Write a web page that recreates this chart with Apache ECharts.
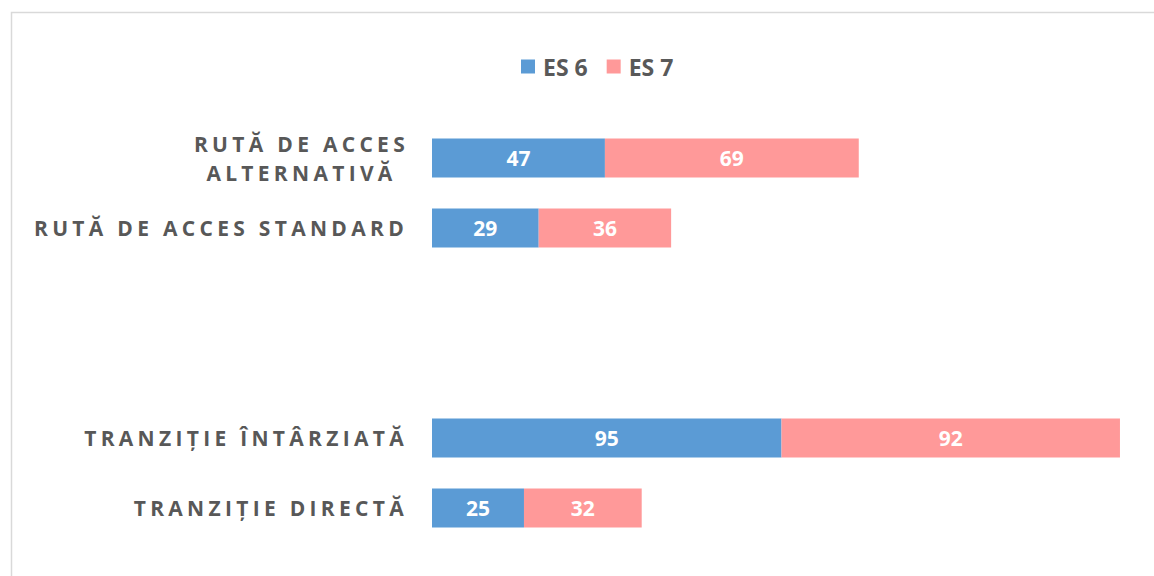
<!DOCTYPE html>
<html>
<head>
<meta charset="utf-8">
<script src="https://cdn.jsdelivr.net/npm/echarts@6/dist/echarts.min.js"></script>
<style>
  html, body { margin:0; padding:0; background:#fff; }
  #chart { width:1154px; height:576px; }
  /* axis category labels are letter-spaced in the original */
  #chart text[fill="#585858"] { letter-spacing:4.3px; }
</style>
</head>
<body>
<div id="chart"></div>
<script>
const categories = ["RUTĂ DE ACCES ALTERNATIVĂ", "RUTĂ DE ACCES STANDARD", "", "", "TRANZIȚIE ÎNTÂRZIATĂ", "TRANZIȚIE DIRECTĂ"];
const es6 = [47, 29, "-", "-", 95, 25];
const es7 = [69, 36, "-", "-", 92, 32];
const seriesNames = ["ES 6", "ES 7"];
const colors = ["#5b9bd5", "#ff9999"];

const chart = echarts.init(document.getElementById("chart"), null, { renderer: "svg" });

const lbl = { fontFamily:"Open Sans", fontSize:21, fontWeight:"bold", color:"#585858" };
const barLabel = { show:true, position:"inside", color:"#fff", fontFamily:"Open Sans", fontSize:21, fontWeight:"bold" };

chart.setOption({
  backgroundColor:"#fff",
  animation:false,
  graphic:[{
    type:"rect", silent:true,
    shape:{ x:11.5, y:12.5, width:2000, height:2000 },
    style:{ fill:"none", stroke:"#d9d9d9", lineWidth:1.5 }
  }],
  legend:{
    left:521, top:55, padding:0,
    itemWidth:14, itemHeight:14, itemGap:19,
    icon:"rect",
    textStyle:{ fontFamily:"Open Sans", fontSize:23, fontWeight:"bold", color:"#595959", padding:[0,0,0,3] },
    data:seriesNames
  },
  grid:{ left:432, top:123, width:699, height:420 },
  xAxis:{ type:"value", min:0, max:190, show:false },
  yAxis:{
    type:"category", inverse:true, data:categories,
    axisLine:{show:false}, axisTick:{show:false}, splitLine:{show:false},
    axisLabel:{
      ...lbl, margin:24, lineHeight:29,
      formatter:(v)=> v.indexOf("ALTERNATIV")>=0 ? "{c|RUTĂ DE ACCES}\n{c|ALTERNATIVĂ}" : v,
      rich:{ c:{ ...lbl, width:213, align:"center", lineHeight:29 } }
    }
  },
  series:[
    { name:seriesNames[0], type:"bar", stack:"s", barWidth:39, data:es6,
      itemStyle:{ color:colors[0] }, label:barLabel },
    { name:seriesNames[1], type:"bar", stack:"s", barWidth:39, data:es7,
      itemStyle:{ color:colors[1] }, label:barLabel }
  ]
});
</script>
</body>
</html>
